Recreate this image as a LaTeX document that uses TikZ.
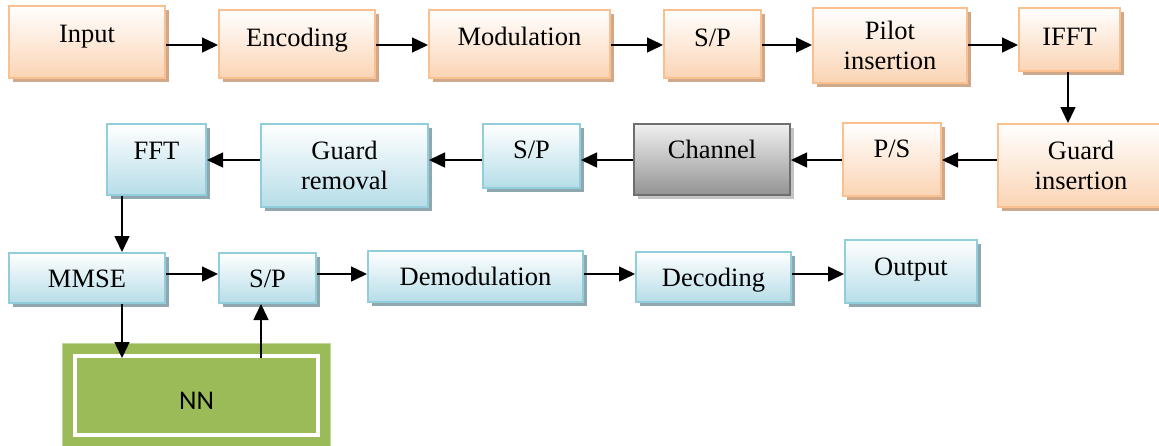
\documentclass[tikz,border=0pt]{standalone}
\usepackage{fontspec}
\setmainfont{Liberation Serif}
\newfontfamily\nnfont{Carlito}
\usetikzlibrary{arrows.meta,shadows}

\definecolor{orline}{HTML}{FAC090}
\definecolor{orbot}{HTML}{FBD4B4}
\definecolor{orshade}{HTML}{CFA98A}
\definecolor{blline}{HTML}{92CDDC}
\definecolor{blbot}{HTML}{B6DDE8}
\definecolor{blshade}{HTML}{8FA8AF}
\definecolor{grline}{HTML}{6E6E6E}
\definecolor{grtop}{HTML}{F0F0F0}
\definecolor{grbot}{HTML}{939393}
\definecolor{grshade}{HTML}{C4C4C4}
\definecolor{nngreen}{HTML}{9BBB59}
\definecolor{nnedge}{HTML}{C3D69B}

\tikzset{
  box/.style={rectangle, line width=2pt, inner sep=2pt, align=center,
    font=\fontsize{26.5}{30}\selectfont, text=black},
  orbox/.style={box, draw=orline, top color=white, bottom color=orbot,
    general shadow={fill=orshade, shadow xshift=4pt, shadow yshift=-4pt}},
  blbox/.style={box, draw=blline, top color=white, bottom color=blbot,
    general shadow={fill=blshade, shadow xshift=4pt, shadow yshift=-4pt}},
  grbox/.style={box, draw=grline, top color=grtop, bottom color=grbot,
    general shadow={fill=grshade, shadow xshift=4pt, shadow yshift=-4pt}},
  bl/.style={text height=18pt, text depth=#1},
  sz/.style 2 args={minimum width=#1pt, minimum height=#2pt},
  arr/.style={line width=1.5pt, -{Triangle[length=16pt,width=15pt]}},
}

\begin{document}
\begin{tikzpicture}[x=1pt,y=-1pt]
\useasboundingbox (0,0) rectangle (1159,445);
\clip (0,0) rectangle (1159,445);

% lines along which the connectors run
\coordinate (r1) at (0,45);
\coordinate (r2) at (0,160);
\coordinate (r3) at (0,274);
\coordinate (c1) at (1068,0);
\coordinate (c2) at (122,0);
\coordinate (c3) at (261,0);

% transmitter
\node[orbox, sz={156}{72}, bl=18pt] (in)   at (87,42)      {Input};
\node[orbox, sz={156}{68}, bl=14pt] (enc)  at (297,44.3)   {Encoding};
\node[orbox, sz={181}{68}, bl=16pt] (mod)  at (519.5,44)   {Modulation};
\node[orbox, sz={97}{68},  bl=14pt] (sp1)  at (712.5,44)   {S/P};
\node[orbox, sz={154}{75}]          (pil)  at (890,45.5)   {Pilot\\insertion};
\node[orbox, sz={101}{63}, bl=7pt]  (ifft) at (1069.5,39.5) {IFFT};
\node[orbox, sz={166}{83}]          (gins) at (1081,165.5) {Guard\\insertion};
\node[orbox, sz={98}{73},  bl=22pt] (ps)   at (892,159.5)  {P/S};

% channel
\node[grbox, sz={156}{71}, bl=21pt] (chan) at (712,159.5)  {Channel};

% receiver
\node[blbox, sz={97}{64},  bl=14pt] (sp2)  at (531.5,156)  {S/P};
\node[blbox, sz={167}{83}]          (grem) at (344.5,165.5) {Guard\\removal};
\node[blbox, sz={99}{71},  bl=18pt] (fft)  at (156.5,159.5) {FFT};
\node[blbox, sz={156}{50}, bl=0pt]  (mmse) at (87,278)     {MMSE};
\node[blbox, sz={97}{50},  bl=0pt]  (sp3)  at (267.5,278)  {S/P};
\node[blbox, sz={215}{51}, bl=0pt]  (dem)  at (475.5,276.5) {Demodulation};
\node[blbox, sz={155}{50}, bl=0pt]  (dec)  at (713.5,277)  {Decoding};
\node[blbox, sz={132}{63}, bl=11pt] (out)  at (911,271.5)  {Output};

% neural network block: green frame with a white inner line
\node[rectangle, draw=white, line width=3.5pt, fill=nngreen, inner sep=0pt,
      outer sep=0pt, minimum width=243pt, minimum height=79pt,
      preaction={draw=nnedge, line width=26pt},
      preaction={draw=nngreen, line width=24pt},
      font=\nnfont\fontsize{27}{30}\selectfont, text height=27pt, text depth=0pt]
      (nn) at (196.5,395.5) {NN};

% connectors
\draw[arr] (in.east   |- r1) -- (enc.west  |- r1);
\draw[arr] (enc.east  |- r1) -- (mod.west  |- r1);
\draw[arr] (mod.east  |- r1) -- (sp1.west  |- r1);
\draw[arr] (sp1.east  |- r1) -- (pil.west  |- r1);
\draw[arr] (pil.east  |- r1) -- (ifft.west |- r1);
\draw[arr] (ifft.south -| c1) -- (gins.north -| c1);
\draw[arr] (gins.west |- r2) -- (ps.east   |- r2);
\draw[arr] (ps.west   |- r2) -- (chan.east |- r2);
\draw[arr] (chan.west |- r2) -- (sp2.east  |- r2);
\draw[arr] (sp2.west  |- r2) -- (grem.east |- r2);
\draw[arr] (grem.west |- r2) -- (fft.east  |- r2);
\draw[arr] (fft.south -| c2) -- (mmse.north -| c2);
\draw[arr] (mmse.east |- r3) -- (sp3.west  |- r3);
\draw[arr] (sp3.east  |- r3) -- (dem.west  |- r3);
\draw[arr] (dem.east  |- r3) -- (dec.west  |- r3);
\draw[arr] (dec.east  |- r3) -- (out.west  |- r3);
\draw[arr] (mmse.south -| c2) -- ([yshift=-2pt]nn.north -| c2);
\draw[arr] ([yshift=-2pt]nn.north -| c3) -- (sp3.south -| c3);
\end{tikzpicture}
\end{document}
